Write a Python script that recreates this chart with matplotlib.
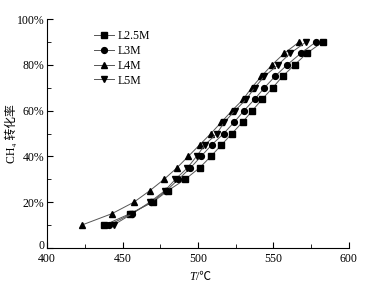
import matplotlib
matplotlib.use("Agg")
import matplotlib.pyplot as plt
from matplotlib.ticker import MultipleLocator, FuncFormatter

matplotlib.rcParams.update({'font.family': ['Liberation Serif', 'Noto Sans CJK SC', 'DejaVu Sans']})
matplotlib.rcParams.update({'font.size': 8.5})

# conversion levels (%), same for every sample
conversion = [10, 15, 20, 25, 30, 35, 40, 45, 50, 55, 60, 65, 70, 75, 80, 85, 90]

# temperature (degC)
t_l25m = [438, 455, 470, 480, 491.5, 501, 508.5, 515.5, 522.5, 529.5, 536, 542.5, 549.5, 556, 564, 572, 582.5]
t_l3m = [441, 456, 469, 479, 487, 495, 502, 509, 517, 524, 530.5, 537.5, 544, 551, 559, 568, 578]
t_l4m = [423, 443, 457.5, 468, 477.5, 486, 493.5, 501, 508.5, 515.5, 522.5, 530, 535.5, 542, 549, 557, 567]
t_l5m = [444, 456.5, 468, 478, 485, 493, 499, 504.5, 512.5, 517.5, 524.5, 532, 537.5, 544, 553, 561, 571.5]

labels = ["L2.5M", "L3M", "L4M", "L5M"]
markers = ["s", "o", "^", "v"]

fig = plt.figure(figsize=(3.83, 2.90), dpi=100)
ax = fig.add_axes([0.123, 0.145, 0.788, 0.789])

for t, lab, m in zip([t_l25m, t_l3m, t_l4m, t_l5m], labels, markers):
    ax.plot(t, conversion, color='#555555', linewidth=0.7, marker=m, markersize=4.2,
            markerfacecolor='black', markeredgecolor='black', label=lab)

ax.set_xlim(400, 600)
ax.set_ylim(0, 100)
ax.xaxis.set_major_locator(MultipleLocator(50))
ax.xaxis.set_minor_locator(MultipleLocator(25))
ax.yaxis.set_major_locator(MultipleLocator(20))
ax.yaxis.set_minor_locator(MultipleLocator(10))
# the "0" is drawn separately, slightly raised so it clears the "400"
ax.yaxis.set_major_formatter(FuncFormatter(lambda v, p: "" if v == 0 else "%d%%" % v))
ax.annotate("0", xy=(0, 0), xycoords=('axes fraction', 'data'), xytext=(-2, 1.5),
            textcoords='offset points', ha='right', va='center')
ax.tick_params(which='both', direction='in', top=False, right=False)
ax.tick_params(which='major', length=4)
ax.tick_params(which='minor', length=3)
ax.tick_params(axis='y', pad=2)
ax.spines['top'].set_visible(False)
ax.spines['right'].set_visible(False)

# x label "T/℃" with italic T, built from two texts
ax.text(0.492, -0.10, "T", transform=ax.transAxes, ha='right', va='top', style='italic')
ax.text(0.492, -0.10, "/\u2103", transform=ax.transAxes, ha='left', va='top')
ax.set_ylabel("CH\u2084 转化率", labelpad=0)
ax.yaxis.set_label_coords(-0.095, 0.5)

ax.legend(loc='upper left', bbox_to_anchor=(0.12, 1.0), frameon=False,
          handlelength=1.7, handletextpad=0.3, labelspacing=0.25, fontsize=8.5)

fig.savefig("out.png", dpi=100)
